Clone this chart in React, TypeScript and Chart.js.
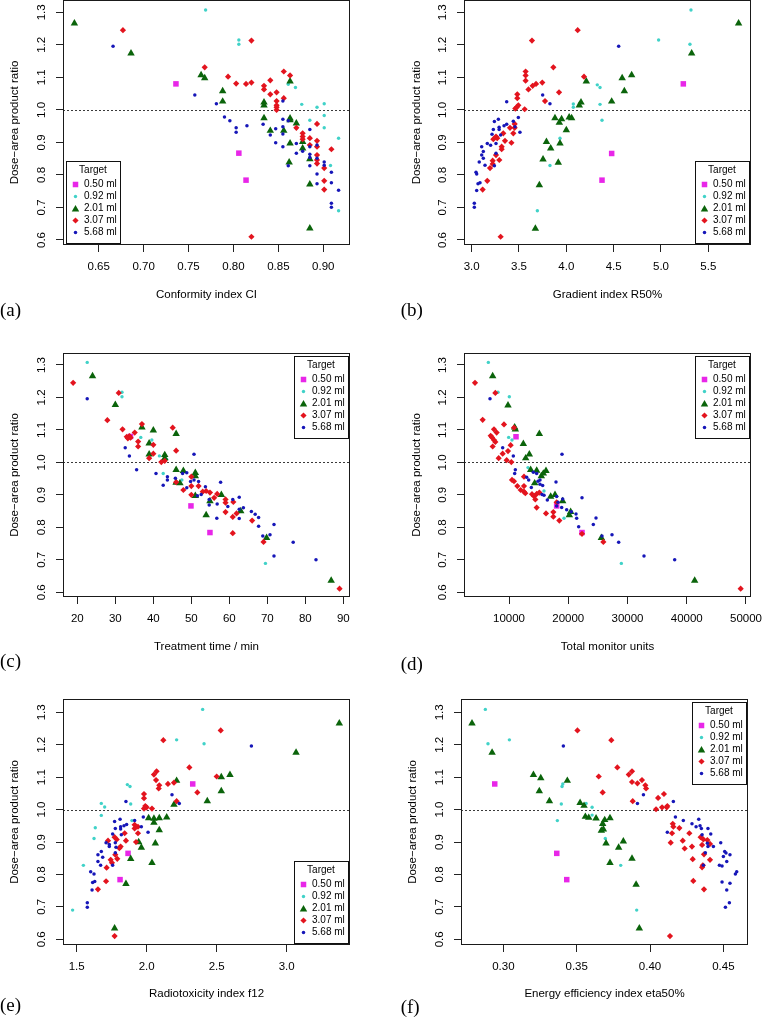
import React, { useEffect, useRef } from "react";
import { Chart, registerables } from "chart.js";

Chart.register(...registerables);

type Pair = [number, number];

// ---------------- data ----------------
const targetLabels = ["0.50 ml", "0.92 ml", "2.01 ml", "3.07 ml", "5.68 ml"];
const ratioTicks = [0.6, 0.7, 0.8, 0.9, 1.0, 1.1, 1.2, 1.3];

// (a) Conformity index CI
const ciTicks = [0.65, 0.7, 0.75, 0.8, 0.85, 0.9];
const ciPink: Pair[] = [[0.736, 1.080], [0.806, 0.867], [0.814, 0.784]];
const ciCyan: Pair[] = [[0.769, 1.307], [0.806, 1.215], [0.806, 1.202], [0.861, 1.079], [0.869, 1.069], [0.876, 1.017], [0.893, 1.008], [0.901, 1.019], [0.901, 0.983], [0.885, 0.968], [0.901, 0.945], [0.917, 0.913], [0.908, 0.829], [0.917, 0.690]];
const ciGreen: Pair[] = [[0.623, 1.266], [0.686, 1.174], [0.764, 1.107], [0.768, 1.098], [0.788, 1.058], [0.788, 1.026], [0.863, 1.088], [0.834, 1.023], [0.834, 1.014], [0.834, 0.975], [0.841, 0.936], [0.856, 0.936], [0.863, 0.974], [0.863, 0.969], [0.870, 0.959], [0.863, 0.897], [0.877, 0.902], [0.877, 0.882], [0.862, 0.839], [0.885, 0.849], [0.885, 0.771], [0.885, 0.636]];
const ciRed: Pair[] = [[0.677, 1.245], [0.820, 1.213], [0.768, 1.131], [0.794, 1.102], [0.803, 1.081], [0.820, 1.084], [0.814, 1.080], [0.834, 1.074], [0.834, 1.063], [0.841, 1.091], [0.841, 1.048], [0.848, 1.054], [0.848, 1.027], [0.848, 1.014], [0.848, 1.008], [0.848, 1.000], [0.856, 1.118], [0.863, 1.106], [0.856, 1.036], [0.870, 0.945], [0.877, 0.928], [0.877, 0.918], [0.877, 0.910], [0.885, 0.913], [0.885, 0.892], [0.893, 0.957], [0.893, 0.905], [0.893, 0.887], [0.893, 0.861], [0.893, 0.846], [0.893, 0.835], [0.901, 0.821], [0.901, 0.782], [0.901, 0.755], [0.909, 0.879], [0.820, 0.610]];
const ciBlue: Pair[] = [[0.666, 1.196], [0.757, 1.046], [0.781, 1.019], [0.790, 0.978], [0.796, 0.967], [0.803, 0.945], [0.803, 0.931], [0.815, 0.951], [0.833, 0.956], [0.841, 0.923], [0.847, 0.942], [0.847, 0.899], [0.855, 1.027], [0.855, 0.971], [0.855, 0.948], [0.855, 0.926], [0.855, 0.887], [0.861, 0.967], [0.861, 0.828], [0.870, 0.867], [0.877, 0.873], [0.885, 0.940], [0.885, 0.887], [0.885, 0.864], [0.885, 0.854], [0.885, 0.828], [0.893, 0.892], [0.893, 0.851], [0.893, 0.803], [0.893, 0.773], [0.901, 0.840], [0.901, 0.830], [0.909, 0.808], [0.909, 0.776], [0.909, 0.713], [0.909, 0.701], [0.917, 0.753], [0.870, 0.897]];

// (b) Gradient index R50%
const r50Ticks = [3.0, 3.5, 4.0, 4.5, 5.0, 5.5];
const r50Pink: Pair[] = [[5.236, 1.080], [4.479, 0.866], [4.377, 0.784]];
const r50Cyan: Pair[] = [[5.317, 1.307], [4.975, 1.215], [5.306, 1.202], [4.327, 1.077], [4.356, 1.069], [4.074, 1.018], [4.074, 1.008], [4.356, 1.017], [4.377, 0.968], [3.933, 0.913], [3.827, 0.829], [3.694, 0.690]];
const r50Green: Pair[] = [[5.820, 1.266], [5.324, 1.174], [4.690, 1.107], [4.590, 1.098], [4.613, 1.058], [4.211, 1.088], [4.479, 1.026], [4.155, 1.023], [4.137, 1.014], [3.880, 0.975], [3.950, 0.972], [3.926, 0.961], [4.030, 0.977], [4.056, 0.975], [4.000, 0.938], [3.933, 0.897], [3.790, 0.902], [3.835, 0.882], [3.754, 0.848], [3.915, 0.838], [3.715, 0.769], [3.673, 0.635]];
const r50Red: Pair[] = [[4.120, 1.245], [3.637, 1.213], [3.863, 1.131], [4.187, 1.102], [3.570, 1.118], [3.570, 1.106], [3.570, 1.090], [3.746, 1.084], [3.680, 1.080], [3.644, 1.074], [3.600, 1.063], [3.775, 1.027], [3.923, 1.054], [3.482, 1.048], [3.482, 1.036], [3.493, 1.014], [3.475, 1.008], [3.461, 1.004], [3.560, 1.002], [3.454, 0.957], [3.454, 0.945], [3.405, 0.945], [3.352, 0.905], [3.334, 0.928], [3.440, 0.928], [3.420, 0.899], [3.257, 0.918], [3.229, 0.910], [3.270, 0.913], [3.317, 0.887], [3.317, 0.879], [3.257, 0.861], [3.292, 0.846], [3.222, 0.844], [3.222, 0.834], [3.194, 0.821], [3.165, 0.782], [3.116, 0.755], [3.306, 0.610]];
const r50Blue: Pair[] = [[4.553, 1.196], [3.750, 1.046], [3.827, 1.019], [3.370, 1.025], [3.493, 0.977], [3.440, 0.965], [3.282, 0.971], [3.240, 0.964], [3.370, 0.956], [3.342, 0.951], [3.290, 0.947], [3.290, 0.940], [3.229, 0.940], [3.215, 0.925], [3.306, 0.923], [3.510, 0.931], [3.257, 0.897], [3.165, 0.897], [3.200, 0.891], [3.106, 0.887], [3.123, 0.872], [3.106, 0.861], [3.123, 0.851], [3.080, 0.840], [3.141, 0.830], [3.240, 0.828], [3.257, 0.867], [3.046, 0.808], [3.053, 0.803], [3.088, 0.776], [3.067, 0.773], [3.053, 0.752], [3.028, 0.713], [3.028, 0.701], [3.458, 0.948]];

// (c) Treatment time / min
const ttTicks = [20, 30, 40, 50, 60, 70, 80, 90];
const ttPink: Pair[] = [[49.9, 0.866], [54.9, 0.784], [34.0, 1.080]];
const ttCyan: Pair[] = [[22.6, 1.308], [31.75, 1.216], [31.75, 1.202], [36.7, 1.077], [39.6, 1.069], [41.6, 1.020], [43.5, 1.010], [42.6, 0.966], [47.5, 0.946], [69.5, 0.689]];
const ttGreen: Pair[] = [[24.0, 1.266], [30.0, 1.177], [37.0, 1.108], [40.0, 1.099], [46.0, 1.088], [38.9, 1.059], [38.9, 1.025], [43.0, 1.023], [43.0, 1.013], [46.0, 0.977], [47.9, 0.974], [51.05, 0.968], [51.05, 0.958], [46.0, 0.938], [47.0, 0.936], [51.05, 0.897], [54.9, 0.881], [57.9, 0.900], [53.9, 0.838], [63.0, 0.850], [69.8, 0.768], [86.8, 0.636]];
const ttRed: Pair[] = [[18.9, 1.245], [30.9, 1.214], [27.9, 1.130], [31.9, 1.102], [37.0, 1.118], [35.1, 1.092], [33.0, 1.079], [33.7, 1.081], [34.0, 1.076], [33.3, 1.074], [36.0, 1.064], [36.0, 1.049], [45.1, 1.107], [40.0, 1.054], [46.0, 1.036], [40.0, 1.027], [38.9, 1.013], [42.1, 1.001], [43.0, 1.005], [50.0, 0.956], [46.0, 0.939], [47.9, 0.915], [50.0, 0.927], [51.9, 0.927], [50.0, 0.900], [53.0, 0.910], [53.9, 0.912], [54.9, 0.907], [56.8, 0.903], [56.0, 0.891], [59.0, 0.886], [59.0, 0.876], [61.05, 0.878], [59.0, 0.847], [61.9, 0.843], [60.9, 0.832], [66.0, 0.821], [60.9, 0.782], [69.0, 0.755], [89.0, 0.611]];
const ttBlue: Pair[] = [[22.6, 1.196], [32.6, 1.045], [33.7, 1.020], [50.7, 1.025], [35.6, 0.977], [40.7, 0.966], [43.7, 0.956], [43.7, 0.946], [42.6, 0.930], [45.8, 0.951], [47.7, 0.966], [48.8, 0.968], [49.8, 0.941], [50.7, 0.946], [51.9, 0.941], [53.7, 0.925], [48.8, 0.922], [52.6, 0.901], [51.6, 0.897], [54.7, 0.886], [54.7, 0.869], [56.8, 0.872], [57.7, 0.939], [59.6, 0.864], [56.7, 0.828], [60.9, 0.886], [62.6, 0.893], [62.6, 0.856], [63.7, 0.860], [62.6, 0.827], [65.8, 0.849], [66.8, 0.840], [67.7, 0.830], [67.7, 0.803], [68.8, 0.773], [70.7, 0.777], [71.75, 0.809], [71.75, 0.712], [76.8, 0.754], [82.8, 0.700]];

// (d) Total monitor units
const muTicks = [10000, 20000, 30000, 40000, 50000];
const muPink: Pair[] = [[11181, 1.079], [18045, 0.866], [22321, 0.784]];
const muCyan: Pair[] = [[6512, 1.308], [8143, 1.216], [10056, 1.202], [9944, 1.077], [10506, 1.069], [13207, 0.984], [15907, 0.912], [19283, 0.828], [28960, 0.689]];
const muGreen: Pair[] = [[7243, 1.266], [9831, 1.176], [10956, 1.108], [11069, 1.102], [15120, 1.088], [12419, 1.057], [13432, 1.025], [12813, 1.013], [13657, 0.977], [14670, 0.975], [16245, 0.974], [15795, 0.966], [15457, 0.958], [14332, 0.936], [17033, 0.895], [17764, 0.900], [19058, 0.881], [20183, 0.838], [20408, 0.848], [25584, 0.768], [41337, 0.636]];
const muRed: Pair[] = [[4261, 1.245], [7693, 1.214], [5555, 1.131], [7468, 1.102], [9156, 1.117], [7918, 1.092], [6906, 1.082], [7131, 1.077], [7468, 1.069], [7693, 1.063], [7243, 1.049], [10844, 1.107], [10281, 1.053], [8931, 1.027], [8256, 1.013], [9831, 1.035], [9606, 1.007], [10394, 1.001], [12532, 0.956], [10506, 0.946], [10844, 0.942], [12532, 0.927], [11406, 0.927], [11969, 0.915], [12532, 0.910], [12757, 0.905], [13882, 0.902], [14670, 0.903], [15120, 0.907], [14220, 0.896], [14445, 0.886], [14670, 0.861], [16245, 0.843], [17483, 0.847], [17483, 0.833], [18495, 0.821], [18045, 0.877], [22321, 0.780], [25922, 0.755], [49101, 0.611]];
const muBlue: Pair[] = [[6793, 1.196], [8931, 1.045], [10731, 1.020], [18945, 1.025], [11069, 0.977], [10956, 0.966], [12982, 0.954], [13319, 0.946], [13769, 0.923], [14107, 0.970], [14670, 0.966], [14895, 0.942], [15232, 0.946], [15682, 0.929], [15232, 0.933], [15570, 0.901], [15907, 0.899], [16470, 0.884], [17933, 0.940], [18045, 0.895], [18270, 0.877], [18045, 0.866], [19058, 0.887], [18889, 0.861], [19733, 0.854], [21308, 0.841], [21421, 0.828], [21758, 0.802], [22321, 0.891], [24233, 0.809], [24684, 0.829], [25697, 0.773], [27384, 0.777], [28510, 0.754], [32786, 0.712], [37962, 0.700], [20520, 0.848]];

// (e) Radiotoxicity index f12
const f12Ticks = [1.5, 2.0, 2.5, 3.0];
const f12Pink: Pair[] = [[2.329, 1.079], [1.867, 0.865], [1.810, 0.784]];
const f12Cyan: Pair[] = [[2.400, 1.309], [2.214, 1.215], [2.410, 1.203], [1.862, 1.077], [1.881, 1.071], [1.676, 1.019], [1.886, 1.017], [1.700, 1.008], [1.676, 0.982], [1.895, 0.966], [1.633, 0.944], [1.624, 0.911], [1.548, 0.828], [1.471, 0.690]];
const f12Green: Pair[] = [[3.376, 1.266], [3.067, 1.176], [2.595, 1.107], [2.533, 1.100], [2.214, 1.089], [2.533, 1.057], [2.433, 1.026], [2.195, 1.015], [2.014, 0.974], [2.052, 0.972], [2.090, 0.974], [2.143, 0.976], [2.052, 0.960], [2.090, 0.937], [2.062, 0.896], [1.943, 0.900], [1.962, 0.883], [1.886, 0.848], [2.038, 0.836], [1.852, 0.771], [1.771, 0.634]];
const f12Red: Pair[] = [[2.529, 1.244], [2.119, 1.214], [2.305, 1.130], [2.500, 1.102], [2.071, 1.118], [2.052, 1.108], [2.067, 1.091], [2.090, 1.075], [2.086, 1.065], [2.152, 1.079], [2.195, 1.083], [1.981, 1.048], [1.981, 1.035], [2.362, 1.053], [2.214, 1.026], [1.990, 1.011], [1.981, 1.003], [2.000, 1.007], [2.038, 1.003], [1.914, 0.953], [1.914, 0.942], [1.938, 0.947], [1.938, 0.927], [1.843, 0.927], [1.771, 0.915], [1.786, 0.908], [1.724, 0.904], [1.852, 0.904], [1.924, 0.900], [1.814, 0.886], [1.805, 0.881], [1.743, 0.845], [1.790, 0.848], [1.752, 0.836], [1.776, 0.861], [1.714, 0.821], [1.710, 0.779], [1.652, 0.754], [1.771, 0.610]];
const f12Blue: Pair[] = [[2.748, 1.196], [2.181, 1.046], [2.233, 1.019], [1.852, 1.025], [1.976, 0.977], [1.914, 0.966], [1.810, 0.970], [1.771, 0.963], [1.857, 0.954], [1.838, 0.950], [1.814, 0.947], [1.776, 0.942], [1.814, 0.940], [1.962, 0.947], [2.010, 0.930], [1.757, 0.925], [1.819, 0.922], [1.710, 0.898], [1.733, 0.892], [1.776, 0.898], [1.781, 0.884], [1.676, 0.871], [1.652, 0.861], [1.686, 0.853], [1.652, 0.840], [1.671, 0.828], [1.757, 0.828], [1.733, 0.886], [1.600, 0.808], [1.624, 0.801], [1.614, 0.775], [1.629, 0.778], [1.610, 0.752], [1.576, 0.713], [1.576, 0.699], [1.776, 0.867]];

// (f) Energy efficiency index eta50%
const etaTicks = [0.3, 0.35, 0.4, 0.45];
const etaPink: Pair[] = [[0.2941, 1.079], [0.3364, 0.865], [0.3432, 0.784]];
const etaCyan: Pair[] = [[0.2877, 1.309], [0.3041, 1.215], [0.2895, 1.203], [0.3400, 1.071], [0.3405, 1.079], [0.3395, 1.017], [0.3564, 1.019], [0.3605, 1.007], [0.3605, 0.983], [0.3368, 0.966], [0.3695, 0.911], [0.3800, 0.828], [0.3909, 0.690]];
const etaGreen: Pair[] = [[0.2786, 1.266], [0.2923, 1.176], [0.3205, 1.107], [0.3255, 1.097], [0.3436, 1.089], [0.3245, 1.057], [0.3314, 1.026], [0.3523, 1.021], [0.3550, 1.012], [0.3559, 0.978], [0.3582, 0.975], [0.3632, 0.973], [0.3727, 0.974], [0.3691, 0.968], [0.3677, 0.956], [0.3668, 0.935], [0.3682, 0.939], [0.3700, 0.896], [0.3818, 0.902], [0.3786, 0.883], [0.3877, 0.849], [0.3727, 0.836], [0.3905, 0.769], [0.3927, 0.634]];
const etaRed: Pair[] = [[0.3505, 1.244], [0.3736, 1.214], [0.3777, 1.130], [0.3650, 1.102], [0.3877, 1.118], [0.3855, 1.108], [0.3945, 1.091], [0.3877, 1.085], [0.3914, 1.081], [0.3968, 1.075], [0.3973, 1.065], [0.3677, 1.053], [0.4095, 1.048], [0.4055, 1.036], [0.3882, 1.026], [0.4082, 1.007], [0.4114, 1.007], [0.4118, 1.011], [0.4041, 1.001], [0.4155, 0.956], [0.4159, 0.947], [0.4200, 0.943], [0.4150, 0.927], [0.4268, 0.927], [0.4141, 0.898], [0.4223, 0.904], [0.4236, 0.880], [0.4286, 0.886], [0.4345, 0.915], [0.4364, 0.908], [0.4391, 0.906], [0.4409, 0.894], [0.4355, 0.891], [0.4291, 0.847], [0.4409, 0.845], [0.4360, 0.828], [0.4355, 0.822], [0.4295, 0.780], [0.4368, 0.754], [0.4136, 0.610], [0.4368, 0.862]];
const etaBlue: Pair[] = [[0.3409, 1.196], [0.3955, 1.046], [0.3914, 1.019], [0.4159, 1.025], [0.4173, 0.977], [0.4227, 0.966], [0.4332, 0.970], [0.4286, 0.956], [0.4341, 0.950], [0.4314, 0.947], [0.4350, 0.942], [0.4395, 0.942], [0.4118, 0.930], [0.4355, 0.922], [0.4414, 0.925], [0.4432, 0.886], [0.4391, 0.896], [0.4482, 0.898], [0.4395, 0.886], [0.4377, 0.867], [0.4509, 0.871], [0.4500, 0.855], [0.4523, 0.840], [0.4545, 0.861], [0.4473, 0.828], [0.4491, 0.826], [0.4364, 0.828], [0.4591, 0.808], [0.4582, 0.801], [0.4491, 0.777], [0.4545, 0.773], [0.4523, 0.752], [0.4541, 0.713], [0.4514, 0.699], [0.4518, 0.866]];

// ---------------- styles & layout ----------------
const FONT = '"Liberation Sans", Arial, Helvetica, sans-serif';
const SERIF = '"Liberation Serif", "Times New Roman", serif';
const SERIES_STYLE = [
  { color: "#e826e8", shape: "rect", r: 3.9 },
  { color: "#40d2c8", shape: "circle", r: 1.7 },
  { color: "#0b640b", shape: "triangle", r: 4.3 },
  { color: "#e3141e", shape: "rectRot", r: 3.1 },
  { color: "#1616b8", shape: "circle", r: 1.75 },
];

interface Panel {
  key: string;
  tag: string;
  xTitle: string;
  series: Pair[][];
  xTicks: number[];
  xDec: number;
  xMin: number;
  xMax: number;
  yMin: number;
  yMax: number;
  left: number;
  top: number;
  width: number;
  height: number;
  area: { l: number; r: number; t: number; b: number };
  yTitleX: number;
  xTitleY: number;
  legend: "bl" | "br" | "tr";
  tagX: number;
  tagY: number;
}

const PANELS: Panel[] = [
  {
    key: "a", tag: "(a)", xTitle: "Conformity index CI",
    series: [ciPink, ciCyan, ciGreen, ciRed, ciBlue], xTicks: ciTicks, xDec: 2,
    xMin: 0.6103, xMax: 0.9297, yMin: 0.5846, yMax: 1.3379,
    left: 0, top: 0, width: 381, height: 340,
    area: { l: 63, r: 350, t: 0, b: 245 }, yTitleX: 15, xTitleY: 295,
    legend: "bl", tagX: 0, tagY: 311,
  },
  {
    key: "b", tag: "(b)", xTitle: "Gradient index R50%",
    series: [r50Pink, r50Cyan, r50Green, r50Red, r50Blue], xTicks: r50Ticks, xDec: 1,
    xMin: 2.919, xMax: 5.951, yMin: 0.5846, yMax: 1.3379,
    left: 381, top: 0, width: 381, height: 340,
    area: { l: 83, r: 370, t: 0, b: 245 }, yTitleX: 35.7, xTitleY: 294.5,
    legend: "br", tagX: 400.7, tagY: 311.5,
  },
  {
    key: "c", tag: "(c)", xTitle: "Treatment time / min",
    series: [ttPink, ttCyan, ttGreen, ttRed, ttBlue], xTicks: ttTicks, xDec: 0,
    xMin: 16.23, xMax: 91.75, yMin: 0.5855, yMax: 1.3369,
    left: 0, top: 340, width: 381, height: 346,
    area: { l: 63, r: 350, t: 13, b: 257 }, yTitleX: 15, xTitleY: 306.7,
    legend: "tr", tagX: 0, tagY: 662.5,
  },
  {
    key: "d", tag: "(d)", xTitle: "Total monitor units",
    series: [muPink, muCyan, muGreen, muRed, muBlue], xTicks: muTicks, xDec: 0,
    xMin: 2405, xMax: 50844, yMin: 0.5855, yMax: 1.3369,
    left: 381, top: 340, width: 381, height: 346,
    area: { l: 83, r: 370, t: 13, b: 257 }, yTitleX: 35.7, xTitleY: 306.7,
    legend: "tr", tagX: 400.7, tagY: 665,
  },
  {
    key: "e", tag: "(e)", xTitle: "Radiotoxicity index f12",
    series: [f12Pink, f12Cyan, f12Green, f12Red, f12Blue], xTicks: f12Ticks, xDec: 1,
    xMin: 1.4024, xMax: 3.4524, yMin: 0.5824, yMax: 1.341,
    left: 0, top: 686, width: 381, height: 334,
    area: { l: 63, r: 350, t: 13, b: 259 }, yTitleX: 15, xTitleY: 307.5,
    legend: "br", tagX: 0, tagY: 1006,
  },
  {
    key: "f", tag: "(f)", xTitle: "Energy efficiency index eta50%",
    series: [etaPink, etaCyan, etaGreen, etaRed, etaBlue], xTicks: etaTicks, xDec: 2,
    xMin: 0.2711, xMax: 0.4668, yMin: 0.5824, yMax: 1.341,
    left: 381, top: 686, width: 381, height: 334,
    area: { l: 80, r: 367, t: 13, b: 259 }, yTitleX: 32.3, xTitleY: 307.5,
    legend: "tr", tagX: 400.7, tagY: 1008,
  },
];

function drawMarker(ctx: CanvasRenderingContext2D, shape: string, x: number, y: number, r: number, color: string) {
  ctx.fillStyle = color;
  ctx.beginPath();
  if (shape === "rect") {
    const s = Math.SQRT1_2 * r;
    ctx.rect(x - s, y - s, 2 * s, 2 * s);
  } else if (shape === "triangle") {
    const a1 = (2 * Math.PI) / 3;
    ctx.moveTo(x, y - r);
    ctx.lineTo(x + Math.sin(a1) * r, y - Math.cos(a1) * r);
    ctx.lineTo(x + Math.sin(2 * a1) * r, y - Math.cos(2 * a1) * r);
    ctx.closePath();
  } else if (shape === "rectRot") {
    ctx.moveTo(x - r, y);
    ctx.lineTo(x, y - r);
    ctx.lineTo(x + r, y);
    ctx.lineTo(x, y + r);
    ctx.closePath();
  } else {
    ctx.arc(x, y, r, 0, Math.PI * 2);
  }
  ctx.fill();
}

function PanelChart({ p }: { p: Panel }) {
  const ref = useRef<HTMLCanvasElement>(null);
  useEffect(() => {
    const canvas = ref.current;
    if (!canvas) return;
    const { l, r, t, b } = p.area;
    const tickFont = { family: FONT, size: 11.5 };
    const titleFont = { family: FONT, size: 11.5 };

    const decor = {
      id: "decor_" + p.key,
      beforeDatasetsDraw(chart: any) {
        const { ctx, chartArea: a } = chart;
        const y1 = Math.round(chart.scales.y.getPixelForValue(1.0)) + 0.5;
        ctx.save();
        ctx.strokeStyle = "#3a3a3a";
        ctx.lineWidth = 1;
        ctx.setLineDash([2, 2]);
        ctx.beginPath();
        ctx.moveTo(a.left, y1);
        ctx.lineTo(a.right, y1);
        ctx.stroke();
        ctx.restore();
      },
      afterDatasetsDraw(chart: any) {
        const { ctx, chartArea: a } = chart;
        ctx.save();
        // plot frame
        ctx.strokeStyle = "#1a1a1a";
        ctx.lineWidth = 1;
        ctx.strokeRect(Math.round(a.left) + 0.5, Math.round(a.top) + 0.5, Math.round(a.right - a.left) - 1, Math.round(a.bottom - a.top) - 1);
        // legend box
        const w = 54, h = 82, inset = 2.5;
        const lx = Math.round(p.legend === "bl" ? a.left + inset : a.right - inset - w);
        const ly = Math.round(p.legend === "tr" ? a.top + inset : a.bottom - inset - h);
        ctx.fillStyle = "#ffffff";
        ctx.fillRect(lx, ly, w, h);
        ctx.strokeStyle = "#111";
        ctx.strokeRect(lx + 0.5, ly + 0.5, w, h);
        ctx.font = `10px ${FONT}`;
        ctx.fillStyle = "#000";
        ctx.textAlign = "center";
        ctx.textBaseline = "middle";
        ctx.fillText("Target", lx + w / 2, ly + 9.5);
        targetLabels.forEach((lab, i) => {
          const cy = ly + 23.5 + i * 12;
          const st = SERIES_STYLE[i];
          drawMarker(ctx, st.shape, lx + 9.5, st.shape === "triangle" ? cy + 0.8 : cy, st.r, st.color);
          ctx.fillStyle = "#000";
          ctx.textAlign = "left";
          ctx.fillText(lab, lx + 18, cy);
        });
        ctx.restore();
      },
    };

    const chart = new Chart(canvas, {
      type: "scatter",
      data: {
        datasets: p.series.map((pts, i) => ({
          label: targetLabels[i],
          data: pts.map(([x, y]) => ({ x, y })),
          pointStyle: SERIES_STYLE[i].shape as any,
          pointRadius: SERIES_STYLE[i].r,
          backgroundColor: SERIES_STYLE[i].color,
          borderColor: SERIES_STYLE[i].color,
          borderWidth: 0,
          order: 5 - i,
        })),
      },
      options: {
        responsive: false,
        animation: false,
        events: [],
        layout: { padding: { left: 0, top: t, right: p.width - r, bottom: 0 }, autoPadding: false },
        plugins: { legend: { display: false }, tooltip: { enabled: false } },
        scales: {
          x: {
            type: "linear",
            position: "bottom",
            min: p.xMin,
            max: p.xMax,
            afterBuildTicks: (s: any) => {
              s.ticks = p.xTicks.map((v) => ({ value: v }));
            },
            afterFit: (s: any) => {
              s.height = p.height - b;
              s.paddingLeft = 0;
              s.paddingRight = 0;
            },
            ticks: {
              autoSkip: false,
              maxRotation: 0,
              minRotation: 0,
              padding: 8,
              color: "#000",
              font: tickFont,
              callback: (v: any) => Number(v).toFixed(p.xDec),
            },
            grid: { drawOnChartArea: false, drawTicks: true, tickLength: 7, color: "#222", lineWidth: 1 },
            border: { display: false },
            title: {
              display: true,
              text: p.xTitle,
              color: "#000",
              font: titleFont,
              padding: { top: 0, bottom: p.height - p.xTitleY - 6.9 },
            },
          },
          y: {
            type: "linear",
            position: "left",
            min: p.yMin,
            max: p.yMax,
            afterBuildTicks: (s: any) => {
              s.ticks = ratioTicks.map((v) => ({ value: v }));
            },
            afterFit: (s: any) => {
              s.width = l;
              s.paddingTop = 0;
              s.paddingBottom = 0;
            },
            ticks: {
              autoSkip: false,
              minRotation: 90,
              maxRotation: 90,
              crossAlign: "center",
              padding: 6,
              color: "#000",
              font: tickFont,
              callback: (v: any) => Number(v).toFixed(1),
            },
            grid: { drawOnChartArea: false, drawTicks: true, tickLength: 7, color: "#222", lineWidth: 1 },
            border: { display: false },
            title: {
              display: true,
              text: "Dose\u2212area product ratio",
              color: "#000",
              font: titleFont,
              padding: { top: p.yTitleX - 6.9, bottom: 0 },
            },
          },
        },
      } as any,
      plugins: [decor],
    });
    return () => chart.destroy();
  }, [p]);

  return (
    <canvas
      ref={ref}
      width={p.width}
      height={p.height}
      style={{ position: "absolute", left: p.left, top: p.top, width: p.width, height: p.height }}
    />
  );
}

export default function App() {
  return (
    <div style={{ position: "absolute", left: 0, top: 0, width: 762, height: 1020, background: "#fff", overflow: "hidden" }}>
      {PANELS.map((p) => (
        <PanelChart key={p.key} p={p} />
      ))}
      {PANELS.map((p) => (
        <div
          key={"tag" + p.key}
          style={{
            position: "absolute",
            left: p.tagX,
            top: p.tagY - 11.2,
            fontFamily: SERIF,
            fontSize: 19,
            lineHeight: 1,
            color: "#000",
            whiteSpace: "nowrap",
          }}
        >
          {p.tag}
        </div>
      ))}
    </div>
  );
}
